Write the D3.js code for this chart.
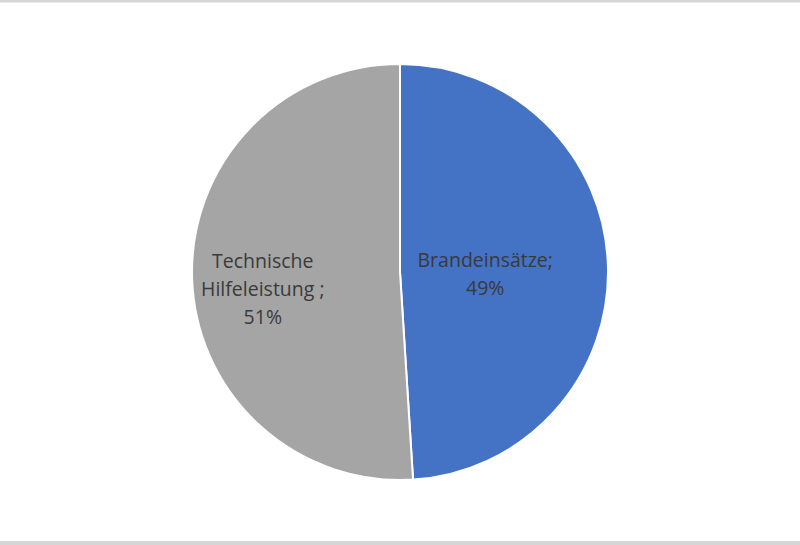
<!DOCTYPE html>
<html>
<head>
<meta charset="utf-8">
<script src="https://cdn.jsdelivr.net/npm/d3@7"></script>
<style>
  body { margin: 0; background: #fff; }
  svg { display: block; }
</style>
</head>
<body>
<svg width="800" height="545"></svg>
<script>
// pie: Brandeinsätze vs. Technische Hilfeleistung
const categories = ['Brandeinsätze', 'Technische Hilfeleistung '];
const values = [49, 51];
const colors = ['#4472C4', '#A5A5A5'];
// label lines as drawn in the chart
const labelLines = [['Brandeinsätze;', '49%'], ['Technische', 'Hilfeleistung ;', '51%']];

let svg = d3.select("svg"),
    width = +svg.attr("width"),
    height = +svg.attr("height");

// thin gray frame lines top and bottom
svg.append("rect").attr("x", 0).attr("y", 0).attr("width", width).attr("height", 2.5).attr("fill", "#d6d6d6");
svg.append("rect").attr("x", 0).attr("y", 541).attr("width", width).attr("height", 4).attr("fill", "#d6d6d6");

const cx = 400, cy = 272, r = 208;

let pie = d3.pie().sort(null).value(function (d) { return d; });
let arc = d3.arc().innerRadius(0).outerRadius(r);

let g = svg.append("g").attr("transform", "translate(" + cx + "," + cy + ")");
let arcs = pie(values);

g.selectAll("path")
    .data(arcs)
    .enter().append("path")
    .attr("d", arc)
    .attr("fill", function (d, i) { return colors[i]; })
    .attr("stroke", "#fff")
    .attr("stroke-width", 2);

// excel puts the two labels at different distances from the centre
const labelRadius = [0.41, 0.66];
const labelDy = [12, 20];
const lineH = 28;

arcs.forEach(function (d, i) {
    let la = d3.arc().innerRadius(r * labelRadius[i]).outerRadius(r * labelRadius[i]);
    let c = la.centroid(d);
    let lines = labelLines[i];
    let t = g.append("text")
        .attr("text-anchor", "middle")
        .attr("font-family", "'Open Sans', sans-serif")
        .attr("font-size", 19.5)
        .attr("fill", "#3a3a3a");
    lines.forEach(function (s, j) {
        t.append("tspan")
            .attr("x", c[0])
            .attr("y", c[1] + (j - (lines.length - 1) / 2) * lineH + labelDy[i])
            .text(s);
    });
});
</script>
</body>
</html>
